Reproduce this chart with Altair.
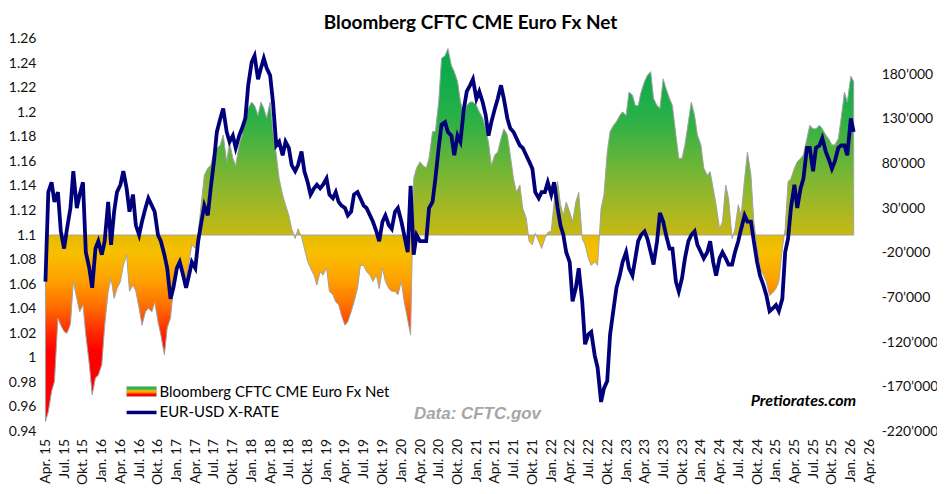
import altair as alt
import pandas as pd

# ---------------- data (semi-monthly readings, Apr 2015 - Feb 2026) ----------------
start_date = "2015-04-01"

eur_usd = [
    1.062, 1.135, 1.143, 1.127, 1.135, 1.103, 1.089, 1.105, 1.122, 1.152,
    1.122, 1.133, 1.143, 1.086, 1.073, 1.057, 1.089, 1.095, 1.084, 1.095,
    1.127, 1.092, 1.119, 1.135, 1.141, 1.152, 1.138, 1.119, 1.133, 1.108,
    1.100, 1.111, 1.122, 1.130, 1.124, 1.119, 1.100, 1.095, 1.084, 1.073,
    1.048, 1.057, 1.073, 1.078, 1.067, 1.057, 1.067, 1.078, 1.073, 1.095,
    1.111, 1.124, 1.116, 1.138, 1.160, 1.184, 1.195, 1.203, 1.184, 1.176,
    1.181, 1.171, 1.181, 1.187, 1.195, 1.222, 1.241, 1.246, 1.227, 1.236,
    1.244, 1.236, 1.230, 1.208, 1.173, 1.176, 1.165, 1.176, 1.171, 1.157,
    1.152, 1.157, 1.168, 1.152, 1.143, 1.133, 1.138, 1.141, 1.138, 1.141,
    1.146, 1.133, 1.130, 1.135, 1.127, 1.124, 1.122, 1.116, 1.119, 1.133,
    1.135, 1.130, 1.124, 1.122, 1.116, 1.111, 1.103, 1.095, 1.111, 1.116,
    1.108, 1.105, 1.119, 1.122, 1.111, 1.100, 1.086, 1.140, 1.084, 1.100,
    1.095, 1.095, 1.095, 1.122, 1.127, 1.146, 1.171, 1.190, 1.192, 1.184,
    1.181, 1.165, 1.181, 1.176, 1.203, 1.217, 1.222, 1.227, 1.211, 1.217,
    1.208, 1.198, 1.181, 1.192, 1.203, 1.211, 1.222, 1.211, 1.195, 1.187,
    1.184, 1.179, 1.173, 1.171, 1.165, 1.160, 1.154, 1.135, 1.130, 1.135,
    1.135, 1.143, 1.133, 1.143, 1.122, 1.108, 1.100, 1.086, 1.078, 1.046,
    1.057, 1.073, 1.046, 1.011, 1.019, 1.021, 1.002, 0.992, 0.964, 0.975,
    0.981, 1.019, 1.040, 1.057, 1.067, 1.078, 1.086, 1.073, 1.067, 1.081,
    1.095, 1.100, 1.103, 1.097, 1.086, 1.076, 1.095, 1.118, 1.111, 1.100,
    1.089, 1.089, 1.062, 1.054, 1.065, 1.081, 1.095, 1.100, 1.103, 1.092,
    1.086, 1.081, 1.086, 1.095, 1.078, 1.067, 1.081, 1.086, 1.081, 1.076,
    1.076, 1.086, 1.095, 1.105, 1.116, 1.111, 1.111, 1.095, 1.078, 1.067,
    1.059, 1.051, 1.038, 1.040, 1.043, 1.038, 1.048, 1.086, 1.097, 1.122,
    1.141, 1.122, 1.138, 1.146, 1.171, 1.171, 1.152, 1.171, 1.173, 1.179,
    1.168, 1.162, 1.154, 1.160, 1.171, 1.173, 1.173, 1.165, 1.195, 1.184,
]

# CFTC CME Euro FX net positions, thousands of contracts
cftc_net_k = [
    -209, -198, -175, -164, -93, -101, -108, -110, -100, -52,
    -71, -86, -78, -112, -145, -179, -160, -157, -145, -101,
    -63, -48, -71, -60, -52, -34, -22, -63, -56, -63,
    -82, -101, -86, -82, -86, -75, -97, -112, -134, -104,
    -93, -60, -34, -26, -37, -52, -30, -11, -15, 2,
    37, 67, 75, 78, 93, 97, 101, 112, 82, 104,
    86, 78, 101, 112, 138, 142, 149, 145, 134, 149,
    142, 131, 149, 116, 90, 63, 45, 34, 22, 7,
    -4, 7, -2, -15, -30, -37, -45, -56, -41, -45,
    -37, -63, -67, -75, -78, -90, -101, -97, -86, -75,
    -60, -34, -34, -41, -45, -52, -45, -60, -37, -52,
    -60, -63, -63, -67, -52, -75, -95, -112, 63, 75,
    82, 78, 75, 86, 116, 116, 149, 198, 201, 209,
    190, 183, 172, 150, 134, 145, 149, 149, 145, 138,
    131, 119, 104, 78, 90, 93, 108, 119, 112, 90,
    63, 48, 56, 30, 19, -7, -11, 2, -7, -15,
    -4, 3, 4, 37, 60, 34, 22, 37, 26, 15,
    37, 48, -4, -11, -26, -34, -30, -34, 30, 45,
    93, 116, 123, 127, 134, 138, 134, 160, 157, 145,
    145, 160, 172, 179, 183, 153, 145, 142, 175, 164,
    153, 145, 112, 86, 86, 101, 127, 149, 134, 112,
    101, 75, 67, 71, 52, 34, 7, 15, 56, 41,
    -4, 7, 34, 22, 63, 93, 67, 15, -15, -37,
    -45, -52, -68, -65, -60, -52, -15, 7, 60, 63,
    75, 82, 86, 90, 108, 123, 119, 119, 123, 119,
    112, 108, 101, 101, 108, 131, 160, 149, 178, 172,
]

left_ticks = [0.94, 0.96, 0.98, 1.0, 1.02, 1.04, 1.06, 1.08, 1.1, 1.12,
              1.14, 1.16, 1.18, 1.2, 1.22, 1.24, 1.26]
right_ticks = [-220000, -170000, -120000, -70000, -20000, 30000, 80000, 130000, 180000]
month_names = ["Jan.", "Feb.", "Mär.", "Apr.", "Mai", "Jun.", "Jul.", "Aug.", "Sep.", "Okt.", "Nov.", "Dez."]

title_text = "Bloomberg CFTC CME Euro Fx Net"
legend_area = "Bloomberg CFTC CME Euro Fx Net"
legend_line = "EUR-USD X-RATE"
source_text = "Data: CFTC.gov"
brand_text = "Pretiorates.com"

# ---------------- table ----------------
dates = pd.date_range(start_date, periods=len(eur_usd), freq="SMS")
cftc = [v * 1000 for v in cftc_net_k]
df = pd.DataFrame({"date": dates, "eur": eur_usd, "cftc": cftc, "zero": 0})

# ---------------- gradient (value based) ----------------
vmax, vmin = max(cftc), min(cftc)
levels = [
    (210000, "#07a84e"), (170000, "#12ac4b"), (130000, "#2bb047"), (90000, "#5cb43b"),
    (50000, "#8fb72d"), (15000, "#b5b81d"), (0, "#c9b70f"),
    (0, "#e6bb00"), (-20000, "#f7c000"), (-50000, "#ffa200"), (-80000, "#ff6e00"),
    (-110000, "#ff2600"), (-130000, "#ff0000"), (-220000, "#ff0000"),
]
stops = []
for lvl, col in levels:
    off = (vmax - lvl) / (vmax - vmin)
    off = min(1.0, max(0.0, off))
    stops.append(alt.GradientStop(color=col, offset=off))
area_fill = alt.LinearGradient(gradient="linear", stops=stops, x1=0, x2=0, y1=0, y2=1)

legend_fill = alt.LinearGradient(
    gradient="linear",
    stops=[alt.GradientStop(color="#1aae4a", offset=0.0),
           alt.GradientStop(color="#5cb43b", offset=0.3),
           alt.GradientStop(color="#f5c000", offset=0.42),
           alt.GradientStop(color="#ff8a00", offset=0.6),
           alt.GradientStop(color="#ff0000", offset=0.78),
           alt.GradientStop(color="#ff0000", offset=1.0)],
    x1=0, x2=0, y1=0, y2=1,
)

# ---------------- axes ----------------
tick_dates = [alt.DateTime(year=y, month=m, date=1)
              for y in range(2015, 2027) for m in (1, 4, 7, 10)
              if (2015, 4) <= (y, m) <= (2026, 4)]
month_js = "[" + ",".join("'" + n + "'" for n in month_names) + "]"
x_axis = alt.Axis(
    values=tick_dates,
    labelExpr=month_js + "[month(datum.value)] + ' ' + timeFormat(datum.value, '%y')",
    labelAngle=270, labelFont="Lato", labelFontSize=14, labelColor="#111111",
    ticks=False, domain=False, grid=False, labelPadding=7, title=None,
    labelOverlap=False, labelFlush=False,
)
x_scale = alt.Scale(domain=[alt.DateTime(year=2015, month=3, date=5),
                            alt.DateTime(year=2026, month=4, date=30)], nice=False)

left_axis = alt.Axis(orient="left", values=left_ticks, format=".2~f", labelFont="Lato",
                     labelFontSize=14, labelColor="#111111", ticks=False, domain=False,
                     grid=False, labelPadding=4, title=None)
right_axis = alt.Axis(orient="right", values=right_ticks,
                      labelExpr="(datum.value < 0 ? '-' : '') + format(abs(datum.value) / 1000, 'd') + '’000'",
                      labelFont="Lato", labelFontSize=14, labelColor="#111111", ticks=False,
                      domain=False, grid=False, labelPadding=6, title=None)

base = alt.Chart(df)

area = base.mark_area(fill=area_fill, stroke="#a3a3a3", strokeWidth=1).encode(
    x=alt.X("date:T", scale=x_scale, axis=x_axis),
    y=alt.Y("cftc:Q", scale=alt.Scale(domain=[-220000, 220000], nice=False, zero=False), axis=right_axis),
    y2="zero:Q",
)

line = base.mark_line(color="#00007a", strokeWidth=3.8).encode(
    x=alt.X("date:T", scale=x_scale, axis=x_axis),
    y=alt.Y("eur:Q", scale=alt.Scale(domain=[0.94, 1.26], nice=False, zero=False), axis=left_axis),
)

one = pd.DataFrame({"a": [0]})

title = alt.Chart(pd.DataFrame({"t": [title_text]})).mark_text(
    font="Lato", fontSize=19, fontWeight="bold", color="#000000", align="center", baseline="middle"
).encode(x=alt.value(432), y=alt.value(-16), text="t:N")

leg_rect = alt.Chart(one).mark_rect(fill=legend_fill, stroke="#b0b0b0", strokeWidth=0.5).encode(
    x=alt.value(87), x2=alt.value(117), y=alt.value(349), y2=alt.value(359)
)
leg_rule = alt.Chart(one).mark_rule(color="#00007a", strokeWidth=3.5).encode(
    x=alt.value(87), x2=alt.value(117), y=alt.value(375)
)
leg_t1 = alt.Chart(pd.DataFrame({"t": [legend_area]})).mark_text(
    font="Lato", fontSize=15, color="#000000", align="left", baseline="middle"
).encode(x=alt.value(120), y=alt.value(354), text="t:N")
leg_t2 = alt.Chart(pd.DataFrame({"t": [legend_line]})).mark_text(
    font="Lato", fontSize=15, color="#000000", align="left", baseline="middle"
).encode(x=alt.value(120), y=alt.value(375), text="t:N")

src = alt.Chart(pd.DataFrame({"t": [source_text]})).mark_text(
    font="Liberation Sans", fontSize=17, fontWeight="bold", fontStyle="italic",
    color="#a6a6a6", align="center", baseline="middle"
).encode(x=alt.value(439), y=alt.value(377), text="t:N")

brand = alt.Chart(pd.DataFrame({"t": [brand_text]})).mark_text(
    font="Lato", fontSize=16, fontWeight="bold", fontStyle="italic",
    color="#000000", align="center", baseline="middle"
).encode(x=alt.value(766), y=alt.value(364), text="t:N")

chart = alt.layer(
    area, line, title, leg_rect, leg_rule, leg_t1, leg_t2, src, brand
).resolve_scale(y="independent").properties(
    width=838, height=394,
    autosize=alt.AutoSizeParams(type="none"),
    padding={"left": 32, "top": 30, "right": 62, "bottom": 58},
    background="#ffffff",
).configure_view(stroke=None)

chart.save("out.html", embed_options={"renderer": "svg", "actions": False})
